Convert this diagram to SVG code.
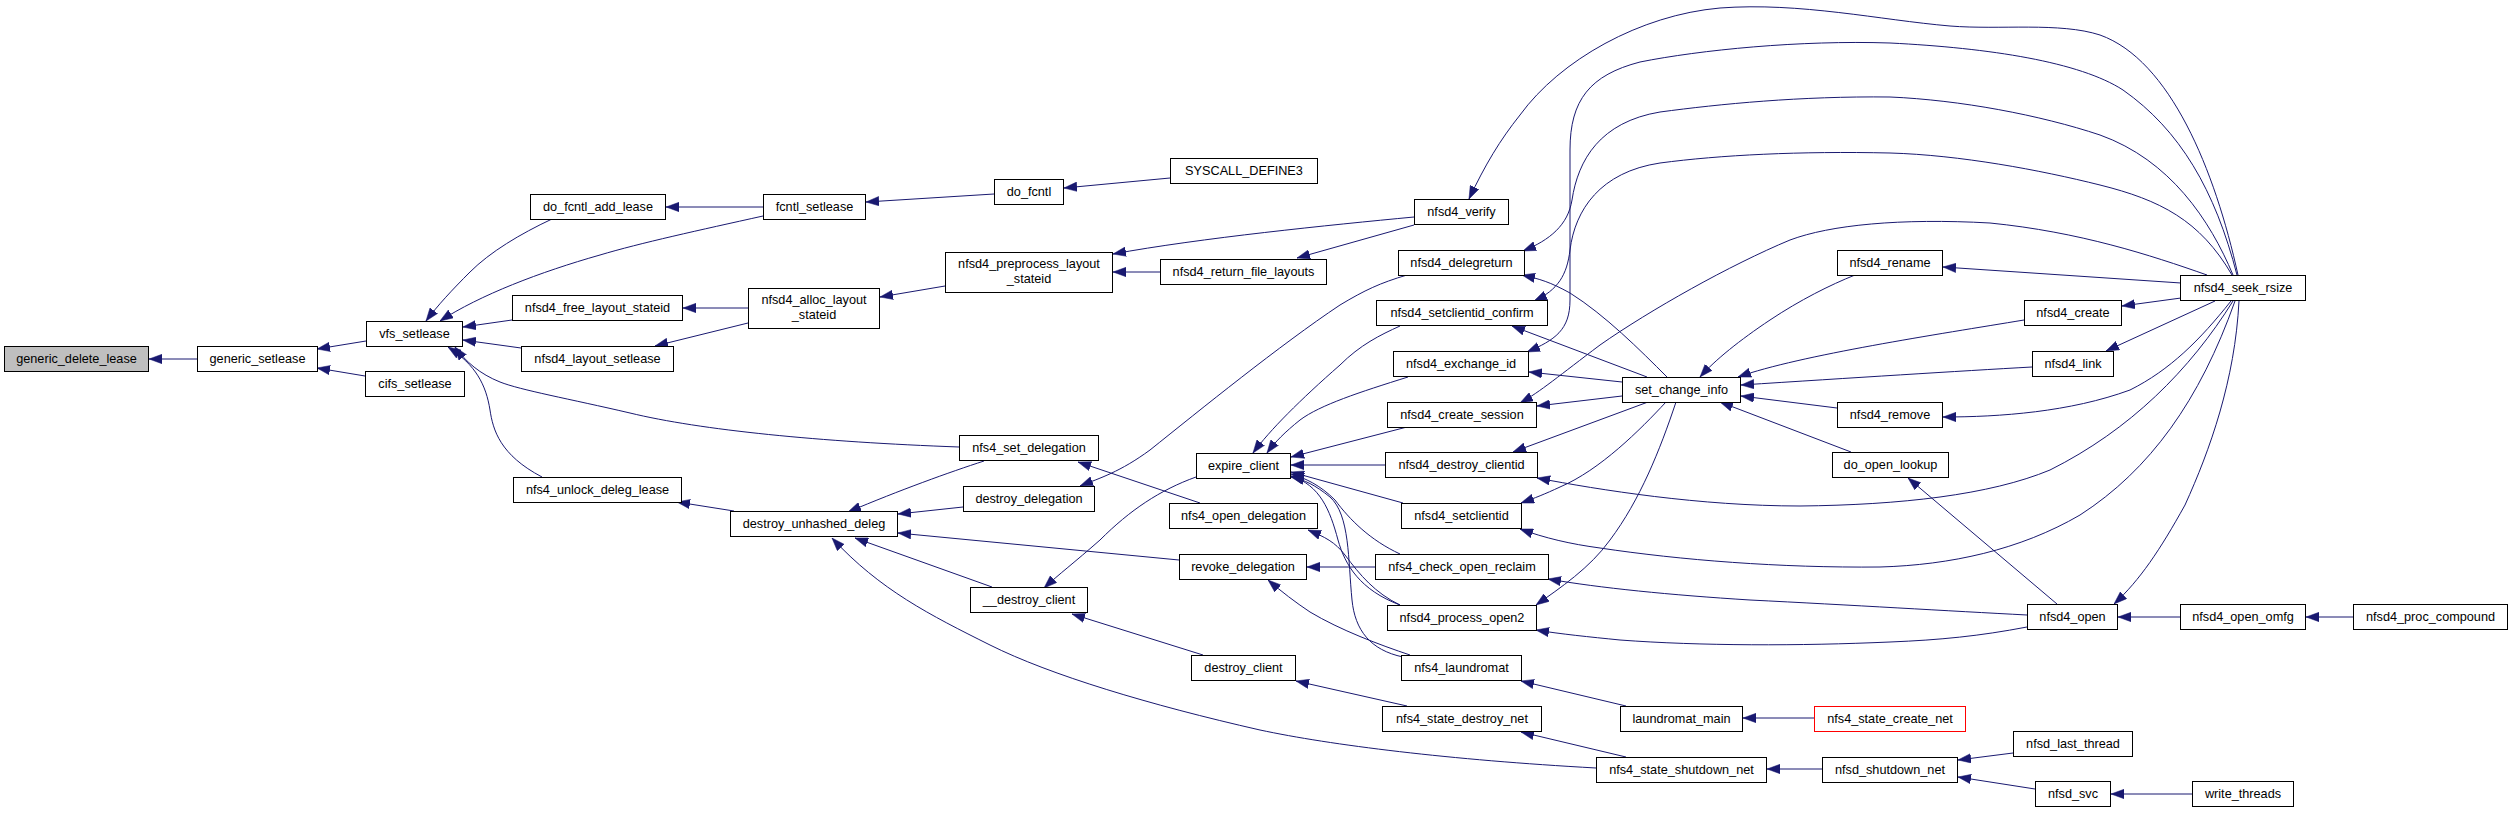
<svg xmlns="http://www.w3.org/2000/svg" width="2512" height="813" viewBox="0 0 2512 813">
<style>
.n rect{fill:#fff;stroke:#000;stroke-width:1}
.n text{font-family:"Liberation Sans",Arial,sans-serif;font-size:12.7px;text-anchor:middle;fill:#000}
.e path{fill:none;stroke:#191970;stroke-width:1;marker-end:url(#a)}
</style>
<defs>
<marker id="a" markerUnits="userSpaceOnUse" markerWidth="13" markerHeight="10" viewBox="0 0 13 9.4" refX="13" refY="4.7" orient="auto"><path d="M0,0 L13,4.7 L0,9.4 z" fill="#191970" stroke="#191970" stroke-width="0.5"/></marker>
</defs>
<rect x="0" y="0" width="2512" height="813" fill="#fff"/>
<g id="connectors" class="e">
<path d="M197,359 L149,359"/>
<path d="M366,341 L317,349"/>
<path d="M365,376 L317,368"/>
<path d="M552,219 C520,234 490,252 470,272 C452,290 438,305 426,321"/>
<path d="M763,216 C700,230 640,243 600,255 C540,272 480,295 440,321"/>
<path d="M512,320 L463,327"/>
<path d="M521,348 L463,340"/>
<path d="M959,447 C820,442 700,430 630,413 C570,399 520,390 500,382 C480,374 466,362 455,347"/>
<path d="M542,477 C500,455 493,430 490,410 C486,385 476,365 448,347"/>
<path d="M763,207 L666,207"/>
<path d="M994,194 L866,202"/>
<path d="M1170,178 L1064,188"/>
<path d="M748,308 L683,308"/>
<path d="M748,323 L655,346"/>
<path d="M945,286 L880,297"/>
<path d="M1414,217 C1330,225 1200,238 1113,254"/>
<path d="M1160,272 L1113,272"/>
<path d="M1414,225 L1297,258"/>
<path d="M2238,275 C2215,170 2170,60 2100,35 C2060,22 2000,30 1950,26 C1880,20 1800,2 1720,8 C1640,15 1560,60 1520,115 C1500,140 1485,165 1469,199"/>
<path d="M2237,275 C2215,190 2180,130 2123,90 C2080,62 1990,48 1890,43 C1800,40 1700,50 1640,62 C1590,75 1570,100 1570,150 L1570,300 C1570,330 1555,340 1527,352"/>
<path d="M2233,275 C2210,220 2170,160 2100,135 C2040,115 1960,100 1890,97 C1800,96 1720,104 1660,112 C1600,122 1578,160 1572,200 C1568,225 1550,240 1523,251"/>
<path d="M2232,275 C2200,220 2160,200 2100,185 C2040,170 1960,155 1890,153 C1800,151 1720,155 1660,163 C1600,172 1575,210 1570,250 C1567,275 1558,290 1534,301"/>
<path d="M2207,275 C2150,255 2080,232 1990,223 C1900,218 1830,225 1790,240 C1730,265 1650,310 1600,345 C1560,375 1540,392 1520,403"/>
<path d="M734,511 L677,502"/>
<path d="M984,461 C950,472 900,490 848,512"/>
<path d="M963,507 L898,514"/>
<path d="M1179,560 L898,533"/>
<path d="M992,587 L855,538"/>
<path d="M1596,768 C1450,760 1330,745 1260,730 C1150,705 1050,675 990,645 C930,615 880,590 832,538"/>
<path d="M1200,503 L1078,462"/>
<path d="M1407,275 C1380,283 1365,290 1340,305 C1280,345 1200,410 1150,450 C1120,472 1100,478 1080,486"/>
<path d="M1196,477 C1160,490 1130,510 1100,540 C1075,562 1058,575 1044,588"/>
<path d="M1203,655 L1072,614"/>
<path d="M1400,605 C1375,593 1360,575 1345,555 C1335,542 1325,537 1308,530"/>
<path d="M1375,567 L1307,567"/>
<path d="M1410,655 C1380,645 1340,630 1310,612 C1295,602 1282,592 1268,580"/>
<path d="M1400,326 C1380,335 1360,345 1340,365 C1300,400 1270,430 1253,453"/>
<path d="M1408,377 C1360,392 1320,405 1300,420 C1285,432 1275,442 1267,453"/>
<path d="M1407,427 L1291,457"/>
<path d="M1385,465 L1291,465"/>
<path d="M1403,503 L1291,472"/>
<path d="M1400,554 C1370,540 1350,520 1335,500 C1320,485 1305,478 1291,474"/>
<path d="M1400,605 C1360,590 1345,565 1338,540 C1330,510 1320,485 1291,476"/>
<path d="M1403,657 C1370,650 1355,630 1352,600 C1348,560 1350,515 1330,497 C1315,485 1305,480 1291,477"/>
<path d="M1667,377 C1640,350 1605,315 1570,293 C1550,282 1540,279 1522,275"/>
<path d="M1647,377 L1512,326"/>
<path d="M1622,382 L1529,372"/>
<path d="M1622,396 L1537,406"/>
<path d="M1648,402 L1513,452"/>
<path d="M1666,402 C1640,430 1600,470 1560,487 C1545,494 1535,498 1521,503"/>
<path d="M1676,402 C1660,450 1640,500 1610,540 C1590,568 1560,588 1536,605"/>
<path d="M1855,275 C1830,285 1800,300 1770,320 C1740,340 1715,360 1700,377"/>
<path d="M2024,320 C1940,334 1800,355 1738,377"/>
<path d="M2032,367 C1960,371 1850,378 1741,385"/>
<path d="M1837,408 L1741,396"/>
<path d="M1851,452 L1720,402"/>
<path d="M2181,283 L1943,267"/>
<path d="M2181,298 L2122,306"/>
<path d="M2215,301 L2106,351"/>
<path d="M2231,301 C2200,340 2170,370 2130,390 C2070,412 2000,417 1943,417"/>
<path d="M2233,301 C2190,370 2130,430 2050,470 C1990,495 1900,505 1800,506 C1700,506 1600,490 1537,478"/>
<path d="M2235,301 C2200,400 2150,470 2080,515 C2020,550 1950,565 1880,567 C1780,568 1680,560 1600,548 C1570,544 1545,538 1520,529"/>
<path d="M2239,301 C2235,380 2210,450 2185,505 C2160,550 2140,580 2114,604"/>
<path d="M2057,604 L1908,478"/>
<path d="M2027,615 C1950,611 1850,605 1750,600 C1670,595 1600,588 1548,579"/>
<path d="M2027,627 C1980,636 1940,640 1890,642 C1800,646 1700,646 1620,640 C1590,637 1560,634 1536,630"/>
<path d="M2180,617 L2118,617"/>
<path d="M2353,617 L2306,617"/>
<path d="M1626,706 L1521,681"/>
<path d="M1814,718 L1743,718"/>
<path d="M1407,706 L1296,681"/>
<path d="M1626,757 L1521,732"/>
<path d="M1822,769 L1767,769"/>
<path d="M2013,753 L1958,760"/>
<path d="M2035,789 L1958,777"/>
<path d="M2192,794 L2111,794"/>
</g>
<g id="n1" class="n"><rect x="4.5" y="346.5" width="144" height="25" style="fill:#bfbfbf"/><text x="76.5" y="363.3">generic_delete_lease</text></g>
<g id="n2" class="n"><rect x="197.5" y="346.5" width="120" height="25"/><text x="257.5" y="363.3">generic_setlease</text></g>
<g id="n3" class="n"><rect x="366.5" y="321.5" width="96" height="25"/><text x="414.5" y="338.3">vfs_setlease</text></g>
<g id="n4" class="n"><rect x="365.5" y="371.5" width="99" height="25"/><text x="415" y="388.3">cifs_setlease</text></g>
<g id="n5" class="n"><rect x="530.5" y="194.5" width="135" height="25"/><text x="598" y="211.3">do_fcntl_add_lease</text></g>
<g id="n6" class="n"><rect x="512.5" y="295.5" width="170" height="25"/><text x="597.5" y="312.3">nfsd4_free_layout_stateid</text></g>
<g id="n7" class="n"><rect x="521.5" y="346.5" width="152" height="25"/><text x="597.5" y="363.3">nfsd4_layout_setlease</text></g>
<g id="n8" class="n"><rect x="513.5" y="477.5" width="168" height="25"/><text x="597.5" y="494.3">nfs4_unlock_deleg_lease</text></g>
<g id="n9" class="n"><rect x="763.5" y="194.5" width="102" height="25"/><text x="814.5" y="211.3">fcntl_setlease</text></g>
<g id="n10" class="n"><rect x="748.5" y="288.5" width="131" height="40"/><text x="814" y="304">nfsd4_alloc_layout</text><text x="814" y="319">_stateid</text></g>
<g id="n11" class="n"><rect x="730.5" y="511.5" width="167" height="25"/><text x="814" y="528.3">destroy_unhashed_deleg</text></g>
<g id="n12" class="n"><rect x="994.5" y="179.5" width="69" height="25"/><text x="1029" y="196.3">do_fcntl</text></g>
<g id="n13" class="n"><rect x="945.5" y="252.5" width="167" height="40"/><text x="1029" y="268">nfsd4_preprocess_layout</text><text x="1029" y="283">_stateid</text></g>
<g id="n14" class="n"><rect x="959.5" y="435.5" width="139" height="25"/><text x="1029" y="452.3">nfs4_set_delegation</text></g>
<g id="n15" class="n"><rect x="963.5" y="486.5" width="131" height="25"/><text x="1029" y="503.3">destroy_delegation</text></g>
<g id="n16" class="n"><rect x="970.5" y="587.5" width="117" height="25"/><text x="1029" y="604.3">__destroy_client</text></g>
<g id="n17" class="n"><rect x="1170.5" y="158.5" width="147" height="25"/><text x="1244" y="175.3">SYSCALL_DEFINE3</text></g>
<g id="n18" class="n"><rect x="1160.5" y="259.5" width="166" height="25"/><text x="1243.5" y="276.3">nfsd4_return_file_layouts</text></g>
<g id="n19" class="n"><rect x="1196.5" y="453.5" width="94" height="25"/><text x="1243.5" y="470.3">expire_client</text></g>
<g id="n20" class="n"><rect x="1169.5" y="503.5" width="148" height="25"/><text x="1243.5" y="520.3">nfs4_open_delegation</text></g>
<g id="n21" class="n"><rect x="1179.5" y="554.5" width="127" height="25"/><text x="1243" y="571.3">revoke_delegation</text></g>
<g id="n22" class="n"><rect x="1191.5" y="655.5" width="104" height="25"/><text x="1243.5" y="672.3">destroy_client</text></g>
<g id="n23" class="n"><rect x="1414.5" y="199.5" width="94" height="25"/><text x="1461.5" y="216.3">nfsd4_verify</text></g>
<g id="n24" class="n"><rect x="1398.5" y="250.5" width="126" height="25"/><text x="1461.5" y="267.3">nfsd4_delegreturn</text></g>
<g id="n25" class="n"><rect x="1376.5" y="300.5" width="171" height="25"/><text x="1462" y="317.3">nfsd4_setclientid_confirm</text></g>
<g id="n26" class="n"><rect x="1393.5" y="351.5" width="135" height="25"/><text x="1461" y="368.3">nfsd4_exchange_id</text></g>
<g id="n27" class="n"><rect x="1387.5" y="402.5" width="149" height="25"/><text x="1462" y="419.3">nfsd4_create_session</text></g>
<g id="n28" class="n"><rect x="1385.5" y="452.5" width="152" height="25"/><text x="1461.5" y="469.3">nfsd4_destroy_clientid</text></g>
<g id="n29" class="n"><rect x="1401.5" y="503.5" width="120" height="25"/><text x="1461.5" y="520.3">nfsd4_setclientid</text></g>
<g id="n30" class="n"><rect x="1375.5" y="554.5" width="173" height="25"/><text x="1462" y="571.3">nfs4_check_open_reclaim</text></g>
<g id="n31" class="n"><rect x="1387.5" y="605.5" width="149" height="25"/><text x="1462" y="622.3">nfsd4_process_open2</text></g>
<g id="n32" class="n"><rect x="1401.5" y="655.5" width="120" height="25"/><text x="1461.5" y="672.3">nfs4_laundromat</text></g>
<g id="n33" class="n"><rect x="1382.5" y="706.5" width="159" height="25"/><text x="1462" y="723.3">nfs4_state_destroy_net</text></g>
<g id="n34" class="n"><rect x="1622.5" y="377.5" width="118" height="25"/><text x="1681.5" y="394.3">set_change_info</text></g>
<g id="n35" class="n"><rect x="1620.5" y="706.5" width="122" height="25"/><text x="1681.5" y="723.3">laundromat_main</text></g>
<g id="n36" class="n"><rect x="1596.5" y="757.5" width="170" height="25"/><text x="1681.5" y="774.3">nfs4_state_shutdown_net</text></g>
<g id="n37" class="n"><rect x="1837.5" y="250.5" width="105" height="25"/><text x="1890" y="267.3">nfsd4_rename</text></g>
<g id="n38" class="n"><rect x="1837.5" y="402.5" width="105" height="25"/><text x="1890" y="419.3">nfsd4_remove</text></g>
<g id="n39" class="n"><rect x="1832.5" y="452.5" width="116" height="25"/><text x="1890.5" y="469.3">do_open_lookup</text></g>
<g id="n40" class="n"><rect x="1814.5" y="706.5" width="151" height="25" style="stroke:#ff0000"/><text x="1890" y="723.3">nfs4_state_create_net</text></g>
<g id="n41" class="n"><rect x="1822.5" y="757.5" width="135" height="25"/><text x="1890" y="774.3">nfsd_shutdown_net</text></g>
<g id="n42" class="n"><rect x="2024.5" y="300.5" width="97" height="25"/><text x="2073" y="317.3">nfsd4_create</text></g>
<g id="n43" class="n"><rect x="2032.5" y="351.5" width="81" height="25"/><text x="2073" y="368.3">nfsd4_link</text></g>
<g id="n44" class="n"><rect x="2027.5" y="604.5" width="90" height="25"/><text x="2072.5" y="621.3">nfsd4_open</text></g>
<g id="n45" class="n"><rect x="2013.5" y="731.5" width="119" height="25"/><text x="2073" y="748.3">nfsd_last_thread</text></g>
<g id="n46" class="n"><rect x="2035.5" y="781.5" width="75" height="25"/><text x="2073" y="798.3">nfsd_svc</text></g>
<g id="n47" class="n"><rect x="2180.5" y="275.5" width="125" height="25"/><text x="2243" y="292.3">nfsd4_seek_rsize</text></g>
<g id="n48" class="n"><rect x="2180.5" y="604.5" width="125" height="25"/><text x="2243" y="621.3">nfsd4_open_omfg</text></g>
<g id="n49" class="n"><rect x="2192.5" y="781.5" width="101" height="25"/><text x="2243" y="798.3">write_threads</text></g>
<g id="n50" class="n"><rect x="2353.5" y="604.5" width="154" height="25"/><text x="2430.5" y="621.3">nfsd4_proc_compound</text></g>
</svg>
